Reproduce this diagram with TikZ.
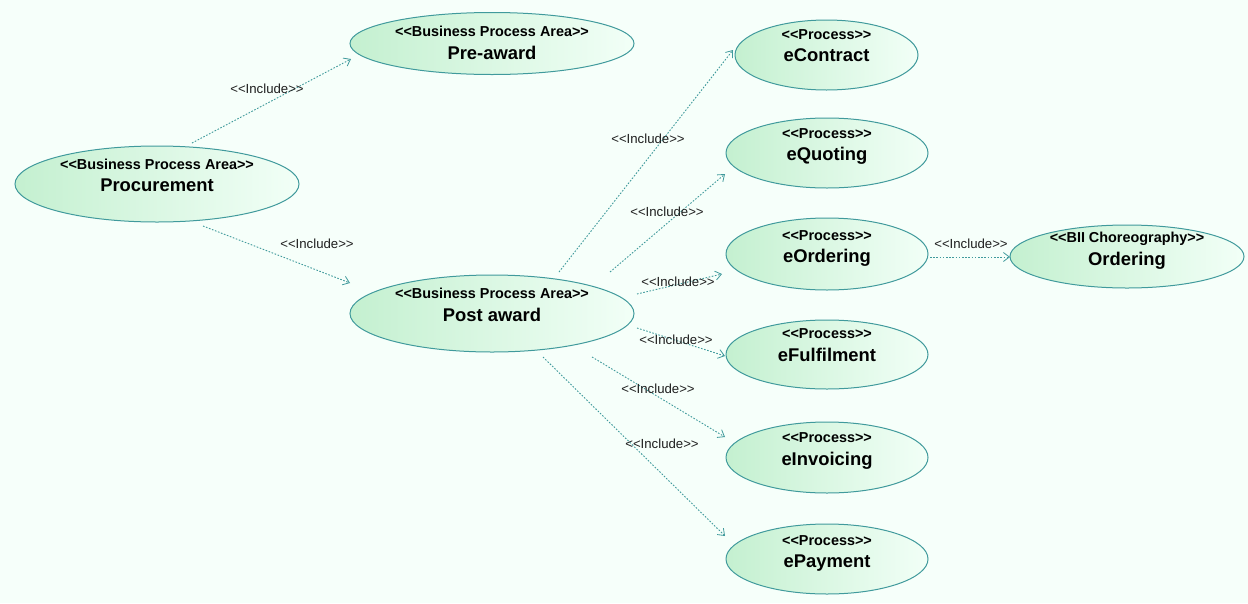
\documentclass[tikz,border=0pt]{standalone}
\usepackage{fontspec}
\newfontfamily\lsans{Liberation Sans}
\usetikzlibrary{shapes.geometric,arrows.meta,calc}
\definecolor{edgec}{RGB}{64,154,156}
\definecolor{fillL}{RGB}{196,240,208}
\definecolor{fillR}{RGB}{242,255,247}
\definecolor{bgc}{RGB}{246,255,250}
\definecolor{txt}{RGB}{30,30,30}
\tikzset{
  uc/.style={ellipse, draw=edgec, line width=1pt, left color=fillL, right color=fillR, inner sep=0pt},
  st/.style={font=\lsans\fontsize{14.4}{16}\selectfont\bfseries, text height=10pt, text depth=0pt, inner sep=0pt, text=black},
  nm/.style={font=\lsans\fontsize{18.4}{20}\selectfont\bfseries, text height=13pt, text depth=0pt, inner sep=0pt, text=black},
  inc/.style={draw=edgec, line width=0.9pt, dash pattern=on 1.6pt off 1.6pt, -{Straight Barb[length=6pt,width=9pt,line width=0.8pt]}},
  lbl/.style={font=\lsans\fontsize{13.2}{15}\selectfont, text=txt, inner sep=0pt},
}
\begin{document}
\begin{tikzpicture}[x=1pt,y=1pt]
\path[fill=bgc] (0,0) rectangle (1248,-603);
\useasboundingbox (0,0) rectangle (1248,-603);

\node[uc, minimum width=284pt, minimum height=76pt,
  label={[st,yshift=20pt]center:<<Business Process Area>>},
  label={[nm,yshift=-1pt]center:Procurement}] (proc) at (157,-184) {};
\node[uc, minimum width=284pt, minimum height=62pt,
  label={[st,yshift=12pt]center:<<Business Process Area>>},
  label={[nm,yshift=-9pt]center:Pre-award}] (pre) at (492,-43.5) {};
\node[uc, minimum width=284pt, minimum height=77pt,
  label={[st,yshift=20pt]center:<<Business Process Area>>},
  label={[nm,yshift=-1pt]center:Post award}] (post) at (492,-313.5) {};

\node[uc, minimum width=183pt, minimum height=70pt,
  label={[st,yshift=21pt]center:<<Process>>},
  label={[nm,yshift=0pt]center:eContract}] (econ) at (826.5,-55) {};
\node[uc, minimum width=202pt, minimum height=70pt,
  label={[st,yshift=20pt]center:<<Process>>},
  label={[nm,yshift=-1pt]center:eQuoting}] (equo) at (827,-153) {};
\node[uc, minimum width=202pt, minimum height=72pt,
  label={[st,yshift=19pt]center:<<Process>>},
  label={[nm,yshift=-2pt]center:eOrdering}] (eord) at (827,-254) {};
\node[uc, minimum width=202pt, minimum height=69pt,
  label={[st,yshift=21pt]center:<<Process>>},
  label={[nm,yshift=0pt]center:eFulfilment}] (eful) at (827,-354.5) {};
\node[uc, minimum width=202pt, minimum height=71pt,
  label={[st,yshift=20pt]center:<<Process>>},
  label={[nm,yshift=-1pt]center:eInvoicing}] (einv) at (827,-457.5) {};
\node[uc, minimum width=202pt, minimum height=70pt,
  label={[st,yshift=19pt]center:<<Process>>},
  label={[nm,yshift=-2pt]center:ePayment}] (epay) at (827,-559) {};
\node[uc, minimum width=234pt, minimum height=63pt,
  label={[st,yshift=19pt]center:<<BII Choreography>>},
  label={[nm,yshift=-2pt]center:Ordering}] (ord) at (1127,-256.5) {};

\draw[inc] ($(proc)+(35,41)$) -- ($(pre)+(-141,-15.5)$);
\draw[inc] ($(proc)+(46,-42)$) -- ($(post)+(-142,30.5)$);
\draw[inc] ($(post)+(67,41.5)$) -- ($(econ)+(-93.5,5)$);
\draw[inc] ($(post)+(118,41.5)$) -- ($(equo)+(-102,-21)$);
\draw[inc] ($(post)+(145,19.5)$) -- ($(eord)+(-105,-20)$);
\draw[inc] ($(post)+(145,-14.5)$) -- ($(eful)+(-102,-1.5)$);
\draw[inc] ($(post)+(100,-43.5)$) -- ($(einv)+(-102,20.5)$);
\draw[inc] ($(post)+(51,-43.5)$) -- ($(epay)+(-102,23)$);
\draw[inc] ($(eord)+(103,-3)$) -- ($(ord)+(-117,-0.5)$);

\node[lbl] (l1) at (267,-89) {<<Include>>};
\node[lbl] (l2) at (317,-244) {<<Include>>};
\node[lbl] (l3) at (648,-139) {<<Include>>};
\node[lbl] (l4) at (667,-212) {<<Include>>};
\node[lbl] (l5) at (678,-282) {<<Include>>};
\node[lbl] (l6) at (676,-340) {<<Include>>};
\node[lbl] (l7) at (658,-389) {<<Include>>};
\node[lbl] (l8) at (662,-444) {<<Include>>};
\node[lbl] (l9) at (971,-244) {<<Include>>};
\end{tikzpicture}
\end{document}
